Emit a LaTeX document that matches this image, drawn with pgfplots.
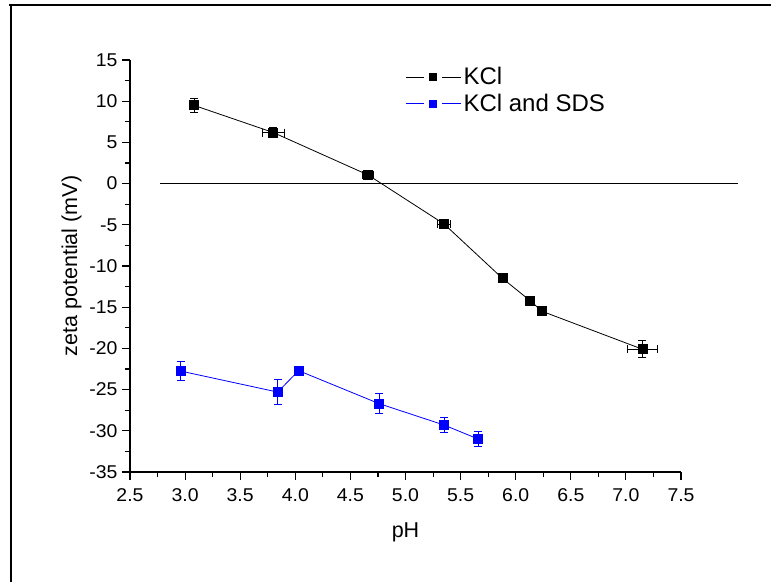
\documentclass[border=0pt]{standalone}
\usepackage{pgfplots}
\pgfplotsset{compat=1.18}
\usepackage{pgfplotstable}
\usepackage{fontspec}
\setmainfont{Liberation Sans}
\newfontfamily\tickfont[FakeStretch=1.05]{Liberation Sans}
\pgfplotstableread{
x y ex ey
3.08 9.5 0.0 0.8
3.80 6.2 0.10 0.6
4.66 1.05 0.05 0.35
5.35 -4.9 0.06 0.45
5.88 -11.5 0 0
6.13 -14.2 0 0
6.24 -15.5 0 0
7.15 -20.1 0.14 1.05
}\kcl
\pgfplotstableread{
x y ex ey
2.96 -22.75 0 1.15
3.84 -25.3 0 1.5
4.03 -22.7 0 0.25
4.76 -26.7 0 1.2
5.35 -29.3 0 0.9
5.66 -31.0 0 0.9
}\sds
\begin{document}
\begin{tikzpicture}[x=1pt,y=1pt]
\draw[line width=2pt] (9,576.5) -- (771,576.5);
\draw[line width=2pt] (11,577.5) -- (11,0);
\begin{axis}[
  at={(130pt,110pt)}, anchor=south west,
  scale only axis, width=551pt, height=412pt,
  xmin=2.5, xmax=7.5, ymin=-35, ymax=15,
  axis lines=left, axis line style={-, line width=1.3pt},
  clip=false,
  xtick distance=0.5, ytick distance=5,
  minor x tick num=1, minor y tick num=1,
  tick align=outside,
  major tick length=8pt, minor tick length=5pt,
  every tick/.style={black, line width=1.1pt},
  /pgf/number format/assume math mode=true,
  xticklabel style={yshift=-5pt, /pgf/number format/.cd, fixed, fixed zerofill, precision=1},
  yticklabel style={xshift=-1pt, /pgf/number format/.cd, fixed, precision=0},
  tick label style={font=\tickfont\fontsize{18.5}{21}\selectfont},
  label style={font=\fontsize{21.5}{25}\selectfont},
  xlabel={pH}, ylabel={zeta potential (mV)},
  xlabel style={yshift=-14pt},
  ylabel style={yshift=1pt},
  legend style={at={(axis cs:5.0,14.35)}, anchor=north west, draw=none, fill=none,
    font=\fontsize{24}{28}\selectfont, row sep=4pt,
    legend cell align=left, inner sep=0pt},
  legend image code/.code={
    \draw[#1] (0pt,0pt) -- (18pt,0pt);
    \draw[#1] (36pt,0pt) -- (55pt,0pt);
    \draw[#1, mark size=3.3pt, only marks] plot coordinates {(27pt,0pt)};
  },
]
\addplot[black, line width=0.8pt, mark=square*, mark size=4.5pt,
  mark options={solid},
  error bars/.cd, x dir=both, x explicit, y dir=both, y explicit,
  error bar style={line width=0.8pt, black},
  error mark options={rotate=90, mark size=4pt, line width=0.8pt, black}]
  table[x=x, y=y, x error=ex, y error=ey] {\kcl};
\addlegendentry{KCl}
\addplot[blue, line width=0.8pt, mark=square*, mark size=4.5pt,
  mark options={solid},
  error bars/.cd, y dir=both, y explicit,
  error bar style={line width=0.8pt, blue},
  error mark options={rotate=90, mark size=4pt, line width=0.8pt, blue}]
  table[x=x, y=y, y error=ey] {\sds};
\addlegendentry{KCl and SDS}
\addplot[black, line width=1.2pt, forget plot] coordinates {(2.77,0) (8.02,0)};
\end{axis}
\pgfresetboundingbox
\path (0,0) rectangle (771,582);
\end{tikzpicture}
\end{document}
